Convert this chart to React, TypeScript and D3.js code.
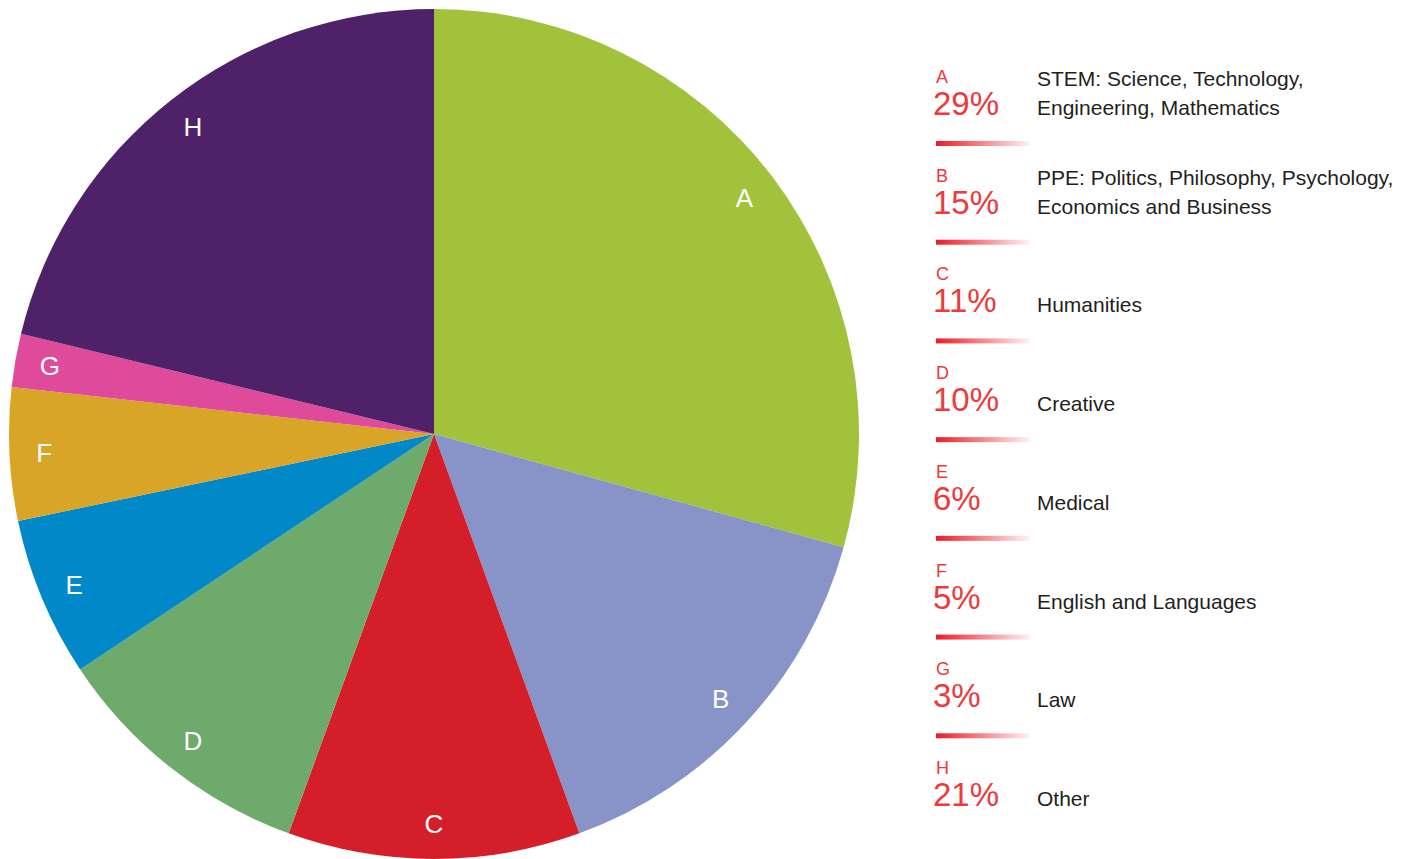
import React from "react";
import * as d3 from "d3";

const letters = ["A", "B", "C", "D", "E", "F", "G", "H"];
const sliceValues = [29, 15, 11, 10, 6, 5, 2, 21];
const legendPercents = ["29%", "15%", "11%", "10%", "6%", "5%", "3%", "21%"];
const descriptions = [
  ["STEM: Science, Technology,", "Engineering, Mathematics"],
  ["PPE: Politics, Philosophy, Psychology,", "Economics and Business"],
  ["Humanities"],
  ["Creative"],
  ["Medical"],
  ["English and Languages"],
  ["Law"],
  ["Other"],
];
const colors = ["#a2c23b", "#8893c7", "#d41f2a", "#6daa6c", "#0088c8", "#d9a527", "#e04a9b", "#4e2169"];

const W = 1402;
const H = 859;
const FONT = "'Liberation Sans', Arial, sans-serif";
const RED = "#ee3a3a";

export default function App() {
  const cx = 434;
  const cy = 434;
  const R = 425;
  const pie = d3.pie<number>().sort(null).value((d) => d);
  const arcs = pie(sliceValues);
  const arc = d3.arc<d3.PieArcDatum<number>>().innerRadius(0).outerRadius(R);
  const labelR = R * 0.918;
  const labelArc = d3.arc<d3.PieArcDatum<number>>().innerRadius(labelR).outerRadius(labelR);

  // baseline of the large percentage text per legend row
  const rowY = d3.scaleLinear().domain([0, 7]).range([115, 806]);

  return (
    <svg
      width={W}
      height={H}
      style={{ position: "absolute", left: 0, top: 0, background: "#fff" }}
      fontFamily={FONT}
    >
      <defs>
        <linearGradient id="bar" x1="0" x2="1" y1="0" y2="0">
          <stop offset="0" stopColor="#ed1c24" stopOpacity={1} />
          <stop offset="1" stopColor="#ed1c24" stopOpacity={0.05} />
        </linearGradient>
      </defs>
      <g transform={`translate(${cx},${cy})`}>
        {arcs.map((a, i) => (
          <path key={i} d={arc(a) || ""} fill={colors[i]} />
        ))}
        {arcs.map((a, i) => {
          const [x, y] = labelArc.centroid(a);
          return (
            <text
              key={"l" + i}
              x={x}
              y={y}
              fill="#fff"
              fontSize={26}
              textAnchor="middle"
              dominantBaseline="central"
            >
              {letters[i]}
            </text>
          );
        })}
      </g>
      {letters.map((L, i) => {
        const pb = rowY(i);
        const lines = descriptions[i];
        const firstY = lines.length === 2 ? pb - 29 : pb;
        return (
          <g key={"leg" + i}>
            <text x={936} y={pb - 32} fill={RED} fontSize={18}>
              {L}
            </text>
            <text x={933} y={pb} fill={RED} fontSize={33}>
              {legendPercents[i]}
            </text>
            {lines.map((t, j) => (
              <text key={j} x={1037} y={firstY + j * 29} fill="#231f20" fontSize={21}>
                {t}
              </text>
            ))}
            {i < letters.length - 1 && (
              <rect x={936} y={pb + 26} width={94} height={5} fill="url(#bar)" />
            )}
          </g>
        );
      })}
    </svg>
  );
}
